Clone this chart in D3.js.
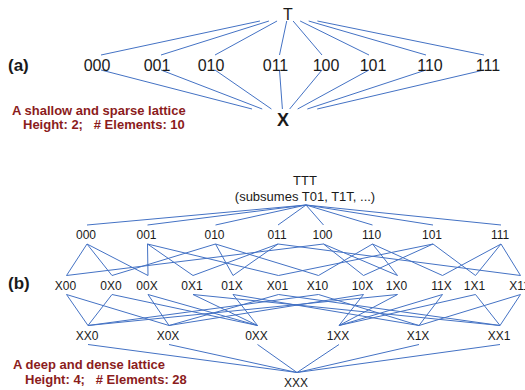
<!DOCTYPE html>
<html><head><meta charset="utf-8">
<script src="https://cdn.jsdelivr.net/npm/d3@7"></script>
<style>
body{margin:0;background:#fff}
svg{display:block}
text{font-family:"Liberation Sans",Arial,Helvetica,sans-serif}
</style>
</head><body>
<svg id="chart" width="525" height="390"></svg>
<script>
// ---------------- data ----------------
const topA    = ["T"];
const midA    = ["000","001","010","011","100","101","110","111"];
const botA    = ["X"];
const topB    = ["TTT"];
const level1B = ["000","001","010","011","100","110","101","111"];
const level2B = ["X00","0X0","00X","0X1","01X","X01","X10","10X","1X0","11X","1X1","X11"];
const level3B = ["XX0","X0X","0XX","1XX","X1X","XX1"];
const botB    = ["XXX"];
const subtitleB = "(subsumes T01, T1T, ...)";
const panelTags = ["(a)","(b)"];
const captionA = ["A shallow and sparse lattice","Height: 2;   # Elements: 10"];
const captionB = ["A deep and dense lattice","Height: 4;   # Elements: 28"];

// ---------------- layout (kept apart from data) ----------------
// horizontal slots in 5px units, vertical rows in px
const slotA = [[57.6],[19.4,31.4,42.2,55.1,65.2,74.6,86.0,97.6],[56.6]];
const rowA  = [14, 65, 120];
const slotB = [[61.0],
  [17.2,29.3,42.9,55.4,64.5,74.3,86.4,100.0],
  [13.1,22.2,29.4,38.4,46.4,55.5,63.5,72.5,79.3,88.3,94.9,103.9],
  [17.4,33.6,51.3,67.6,83.6,99.8],
  [59.2]];
const rowB  = [180, 235, 285.5, 335.5, 382.5];

const W = 525, H = 390;
const x = d3.scaleLinear().domain([0, 105]).range([0, W]);
const svg = d3.select("#chart");
const LINE = "#4472c4", INK = "#1a1a1a", RED = "#8b1c1c";

// subsumption: parent covers child
function covers(p, c) {
  if (p.length !== c.length) return true;
  for (let i = 0; i < p.length; i++) {
    if (!(p[i] === "T" || c[i] === "X" || c[i] === p[i])) return false;
  }
  return true;
}
function xAt(x0, y0, x1, y1, y) { return x0 + (y - y0) * (x1 - x0) / (y1 - y0); }
function toward(a, b, d) { const s = Math.sign(b - a); return a + s * Math.min(d, Math.abs(b - a)); }

function buildNodes(levels, slots, rows) {
  return levels.map((lv, k) => lv.map((name, i) => ({ name, level: k, x: x(slots[k][i]), y: rows[k] })));
}

// ---------------- panel (a) ----------------
const levelsA = [topA, midA, botA];
const nodesA = buildNodes(levelsA, slotA, rowA);
const gA = svg.append("g");
const edgesA = [];
for (let k = 0; k < nodesA.length - 1; k++) {
  nodesA[k].forEach(p => nodesA[k + 1].forEach(c => { if (covers(p.name, c.name)) edgesA.push({ p, c, k }); }));
}
gA.selectAll("line").data(edgesA).join("line")
  .each(function (e) {
    let x1, y1, x2, y2;
    if (e.k === 0) {
      const oy = e.p.y + 1, ex = toward(e.c.x, e.p.x, 4), ey = e.c.y - 10;
      y1 = e.p.y + 7; x1 = xAt(e.p.x, oy, ex, ey, y1); x2 = ex; y2 = ey;
    } else {
      const sx = toward(e.p.x, e.c.x, 4), sy = e.p.y + 5, ty = e.c.y - 3;
      x1 = sx; y1 = sy; y2 = e.c.y - 11; x2 = xAt(sx, sy, e.c.x, ty, y2);
    }
    d3.select(this).attr("x1", x1).attr("y1", y1).attr("x2", x2).attr("y2", y2);
  })
  .attr("stroke", LINE).attr("stroke-width", 1);

gA.selectAll("text.node").data(nodesA.flat()).join("text")
  .attr("class", "node")
  .attr("x", d => d.x).attr("y", d => d.y).attr("dy", "0.35em")
  .attr("text-anchor", "middle")
  .attr("font-size", d => d.level === 2 ? 18 : 16)
  .attr("font-weight", d => d.level === 2 ? "bold" : "normal")
  .attr("fill", INK)
  .text(d => d.name);

// ---------------- panel (b) ----------------
const levelsB = [topB, level1B, level2B, level3B, botB];
const nodesB = buildNodes(levelsB, slotB, rowB);
const gB = svg.append("g");
const edgesB = [];
for (let k = 0; k < nodesB.length - 1; k++) {
  nodesB[k].forEach(p => nodesB[k + 1].forEach(c => { if (covers(p.name, c.name)) edgesB.push({ p, c, k }); }));
}
gB.selectAll("line").data(edgesB).join("line")
  .attr("x1", e => e.p.x + 1)
  .attr("y1", e => (e.k === 0 ? e.p.y + 16 : e.p.y) + 9)
  .attr("x2", e => e.c.x + 1)
  .attr("y2", e => e.c.y - 10)
  .attr("stroke", LINE).attr("stroke-width", 1);

gB.selectAll("text.node").data(nodesB.flat()).join("text")
  .attr("class", "node")
  .attr("x", d => d.x).attr("y", d => d.y).attr("dy", "0.35em")
  .attr("text-anchor", "middle")
  .attr("font-size", d => d.level === 0 ? 13 : 12)
  .attr("fill", INK)
  .text(d => d.name);

gB.append("text")
  .attr("x", nodesB[0][0].x).attr("y", rowB[0] + 16).attr("dy", "0.35em")
  .attr("text-anchor", "middle").attr("font-size", 13).attr("fill", INK)
  .text(subtitleB);

// ---------------- tags and captions ----------------
svg.selectAll("text.tag").data(panelTags).join("text")
  .attr("class", "tag")
  .attr("x", 8).attr("y", (d, i) => i === 0 ? rowA[1] : rowB[2] - 2).attr("dy", "0.35em")
  .attr("font-size", 17).attr("font-weight", "bold").attr("fill", INK)
  .text(d => d);

const caps = [
  { t: captionA[0], x: 12, y: 115 }, { t: captionA[1], x: 23, y: 129 },
  { t: captionB[0], x: 13, y: 369 }, { t: captionB[1], x: 25, y: 384 }
];
svg.selectAll("text.cap").data(caps).join("text")
  .attr("class", "cap")
  .attr("x", d => d.x).attr("y", d => d.y)
  .attr("font-size", 13).attr("font-weight", "bold").attr("fill", RED)
  .style("white-space", "pre")
  .text(d => d.t);
</script>
</body></html>
